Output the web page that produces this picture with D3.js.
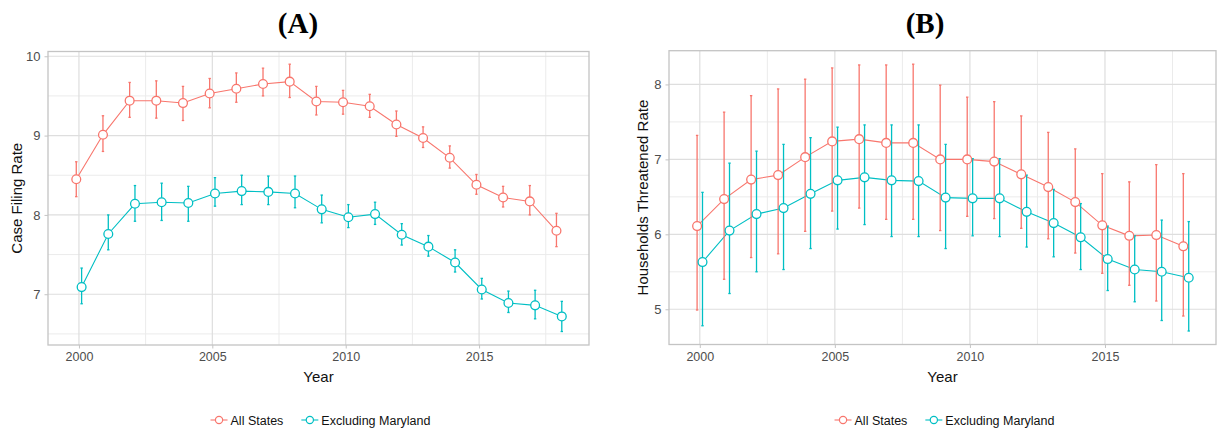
<!DOCTYPE html>
<html>
<head>
<meta charset="utf-8">
<script src="https://cdn.jsdelivr.net/npm/d3@7"></script>
<style>
  body { margin: 0; background: #fff; }
  svg { display: block; font-family: "Liberation Sans", Arial, sans-serif; }
  .panel-title { font-family: "Liberation Serif", "Times New Roman", serif; font-weight: bold; }
</style>
</head>
<body>
<div id="chart"></div>
<script>
/**
 * DATA
 * */
const years = d3.range(2000, 2019);
const seriesNames = ["All States", "Excluding Maryland"];
const colors = ["#F8766D", "#00BFC4"];

// (A) case filing rate
const filingAll = [8.45, 9.01, 9.44, 9.44, 9.41, 9.53, 9.59, 9.65, 9.68, 9.43, 9.42, 9.37, 9.14, 8.97, 8.72, 8.38, 8.22, 8.17, 7.80];
const filingAllLo = [8.23, 8.80, 9.23, 9.22, 9.19, 9.35, 9.42, 9.50, 9.48, 9.26, 9.27, 9.23, 8.99, 8.85, 8.59, 8.26, 8.10, 8.00, 7.60];
const filingAllHi = [8.67, 9.25, 9.67, 9.69, 9.62, 9.72, 9.79, 9.85, 9.90, 9.62, 9.57, 9.52, 9.31, 9.11, 8.87, 8.51, 8.36, 8.37, 8.02];
const filingEx = [7.09, 7.76, 8.14, 8.16, 8.15, 8.27, 8.30, 8.29, 8.27, 8.07, 7.97, 8.01, 7.75, 7.60, 7.40, 7.06, 6.89, 6.86, 6.72];
const filingExLo = [6.88, 7.56, 7.92, 7.93, 7.92, 8.11, 8.13, 8.13, 8.09, 7.90, 7.84, 7.88, 7.62, 7.48, 7.28, 6.94, 6.77, 6.69, 6.53];
const filingExHi = [7.33, 8.00, 8.37, 8.40, 8.36, 8.47, 8.50, 8.49, 8.49, 8.25, 8.13, 8.16, 7.89, 7.74, 7.56, 7.20, 7.04, 7.05, 6.91];

// (B) households threatened rate
const threatAll = [6.11, 6.47, 6.73, 6.79, 7.03, 7.24, 7.27, 7.22, 7.22, 7.00, 7.00, 6.97, 6.80, 6.63, 6.43, 6.12, 5.98, 5.99, 5.84];
const threatAllLo = [4.99, 5.40, 5.69, 5.74, 6.04, 6.31, 6.35, 6.20, 6.20, 6.05, 6.24, 6.21, 6.08, 5.94, 5.75, 5.48, 5.32, 5.11, 4.91];
const threatAllHi = [7.32, 7.63, 7.85, 7.94, 8.07, 8.22, 8.26, 8.26, 8.27, 7.99, 7.83, 7.77, 7.58, 7.36, 7.14, 6.81, 6.70, 6.93, 6.81];
const threatEx = [5.63, 6.05, 6.27, 6.35, 6.54, 6.72, 6.76, 6.72, 6.71, 6.49, 6.48, 6.48, 6.30, 6.15, 5.96, 5.67, 5.53, 5.50, 5.42];
const threatExLo = [4.78, 5.21, 5.50, 5.53, 5.81, 6.07, 6.13, 5.97, 5.97, 5.81, 5.98, 5.97, 5.83, 5.70, 5.53, 5.25, 5.10, 4.85, 4.71];
const threatExHi = [6.56, 6.95, 7.11, 7.20, 7.29, 7.43, 7.46, 7.46, 7.46, 7.20, 7.01, 7.01, 6.79, 6.60, 6.41, 6.11, 5.98, 6.19, 6.17];

const xTicks = [2000, 2005, 2010, 2015];

/**
 * LAYOUT
 * */
const width = 1222, height = 432;

const svg = d3.select("#chart").append("svg")
  .attr("width", width)
  .attr("height", height);

function build(vals, lo, hi) {
  return years.map((y, i) => ({ year: y, v: vals[i], lo: lo[i], hi: hi[i] }));
}

const panels = [
  {
    title: "(A)",
    ylabel: "Case Filing Rate",
    xRange: [48, 589], xDomain: [1998.84, 2019.12],
    yRange: [345, 51.5], yDomain: [6.36, 10.06],
    yTicks: [7, 8, 9, 10], yMinor: [6.5, 7.5, 8.5, 9.5],
    yTitleX: 22, titleX: 298,
    series: [build(filingAll, filingAllLo, filingAllHi), build(filingEx, filingExLo, filingExHi)]
  },
  {
    title: "(B)",
    ylabel: "Households Threatened Rate",
    xRange: [669, 1216], xDomain: [1998.86, 2019.11],
    yRange: [344.5, 50.7], yDomain: [4.53, 8.45],
    yTicks: [5, 6, 7, 8], yMinor: [5.5, 6.5, 7.5],
    yTitleX: 648, titleX: 925,
    series: [build(threatAll, threatAllLo, threatAllHi), build(threatEx, threatExLo, threatExHi)]
  }
];

const dodge = [-0.1, 0.1];

panels.forEach(p => {
  const x = d3.scaleLinear().domain(p.xDomain).range(p.xRange);
  const y = d3.scaleLinear().domain(p.yDomain).range(p.yRange);
  const g = svg.append("g");
  const [x0, x1] = p.xRange;
  const [y0, y1] = [p.yRange[1], p.yRange[0]];
  const cx = (x0 + x1) / 2;

  // minor grid
  const xMinor = [2002.5, 2007.5, 2012.5, 2017.5];
  g.selectAll(".xminor").data(xMinor).join("line")
    .attr("x1", d => x(d)).attr("x2", d => x(d))
    .attr("y1", y0).attr("y2", y1)
    .attr("stroke", "#ebebeb").attr("stroke-width", 1);
  g.selectAll(".yminor").data(p.yMinor).join("line")
    .attr("x1", x0).attr("x2", x1)
    .attr("y1", d => y(d)).attr("y2", d => y(d))
    .attr("stroke", "#ebebeb").attr("stroke-width", 1);

  // major grid
  g.selectAll(".xmajor").data(xTicks).join("line")
    .attr("x1", d => x(d)).attr("x2", d => x(d))
    .attr("y1", y0).attr("y2", y1)
    .attr("stroke", "#dedede").attr("stroke-width", 1.2);
  g.selectAll(".ymajor").data(p.yTicks).join("line")
    .attr("x1", x0).attr("x2", x1)
    .attr("y1", d => y(d)).attr("y2", d => y(d))
    .attr("stroke", "#dedede").attr("stroke-width", 1.2);

  // panel border
  g.append("rect")
    .attr("x", x0).attr("y", y0)
    .attr("width", x1 - x0).attr("height", y1 - y0)
    .attr("fill", "none").attr("stroke", "#c4c4c4").attr("stroke-width", 1.3);

  // axes
  const xAxis = d3.axisBottom(x).tickValues(xTicks).tickFormat(d3.format("d")).tickSize(3.5).tickPadding(4);
  const yAxis = d3.axisLeft(y).tickValues(p.yTicks).tickFormat(d3.format("d")).tickSize(3.5).tickPadding(4);

  g.append("g").attr("transform", `translate(0,${y1})`).call(xAxis)
    .call(a => a.select(".domain").remove())
    .call(a => a.selectAll("line").attr("stroke", "#c4c4c4"))
    .call(a => a.selectAll("text").attr("fill", "#4d4d4d").attr("font-size", 12.5)
      .attr("font-family", "Liberation Sans, Arial, sans-serif"));
  g.append("g").attr("transform", `translate(${x0},0)`).call(yAxis)
    .call(a => a.select(".domain").remove())
    .call(a => a.selectAll("line").attr("stroke", "#c4c4c4"))
    .call(a => a.selectAll("text").attr("fill", "#4d4d4d").attr("font-size", 13)
      .attr("font-family", "Liberation Sans, Arial, sans-serif"));

  // axis titles
  g.append("text")
    .attr("x", cx).attr("y", 382)
    .attr("text-anchor", "middle")
    .attr("font-size", 15).attr("fill", "#111")
    .text("Year");
  g.append("text")
    .attr("transform", `translate(${p.yTitleX},${(y0 + y1) / 2}) rotate(-90)`)
    .attr("text-anchor", "middle")
    .attr("font-size", 15).attr("fill", "#111")
    .text(p.ylabel);

  // panel title
  g.append("text")
    .attr("class", "panel-title")
    .attr("x", p.titleX)
    .attr("y", 33)
    .attr("text-anchor", "middle")
    .attr("font-size", 29)
    .text(p.title);

  // lines
  const line = d3.line().x(d => d.px).y(d => y(d.v));
  p.series.forEach((s, k) => {
    s.forEach(d => d.px = x(d.year + dodge[k]));
    g.append("path")
      .datum(s)
      .attr("d", line)
      .attr("fill", "none")
      .attr("stroke", colors[k])
      .attr("stroke-width", 1.1);
  });

  // error bars
  p.series.forEach((s, k) => {
    const eg = g.append("g").attr("stroke", colors[k]).attr("stroke-width", 1.3);
    eg.selectAll(".eb").data(s).join("line")
      .attr("x1", d => d.px).attr("x2", d => d.px)
      .attr("y1", d => y(d.lo)).attr("y2", d => y(d.hi));
    eg.selectAll(".capTop").data(s).join("line")
      .attr("x1", d => d.px - 1.2).attr("x2", d => d.px + 1.2)
      .attr("y1", d => y(d.hi)).attr("y2", d => y(d.hi));
    eg.selectAll(".capBot").data(s).join("line")
      .attr("x1", d => d.px - 1.2).attr("x2", d => d.px + 1.2)
      .attr("y1", d => y(d.lo)).attr("y2", d => y(d.lo));
  });

  // points
  p.series.forEach((s, k) => {
    g.append("g").selectAll("circle").data(s).join("circle")
      .attr("cx", d => d.px)
      .attr("cy", d => y(d.v))
      .attr("r", 4.4)
      .attr("fill", "#fff")
      .attr("stroke", colors[k])
      .attr("stroke-width", 1.3);
  });

  // legend
  const lg = g.append("g");
  const items = lg.selectAll("g").data(seriesNames).join("g");
  items.append("line")
    .attr("x1", 0).attr("x2", 17).attr("y1", 0).attr("y2", 0)
    .attr("stroke", (d, i) => colors[i]).attr("stroke-width", 1.1);
  items.append("circle")
    .attr("cx", 8.5).attr("cy", 0).attr("r", 3.6)
    .attr("fill", "#fff")
    .attr("stroke", (d, i) => colors[i]).attr("stroke-width", 1.2);
  items.append("text")
    .attr("x", 20).attr("y", 4.5)
    .attr("font-size", 12.5).attr("fill", "#111")
    .text(d => d);
  // place items side by side, whole block centred under panel
  let off = 0;
  const widths = [];
  items.each(function () {
    widths.push(this.getBBox().width);
  });
  items.attr("transform", (d, i) => {
    const t = off;
    off += widths[i] + 18;
    return `translate(${t},0)`;
  });
  const total = off - 18;
  lg.attr("transform", `translate(${cx - total / 2 + 2},420)`);
});
</script>
</body>
</html>
